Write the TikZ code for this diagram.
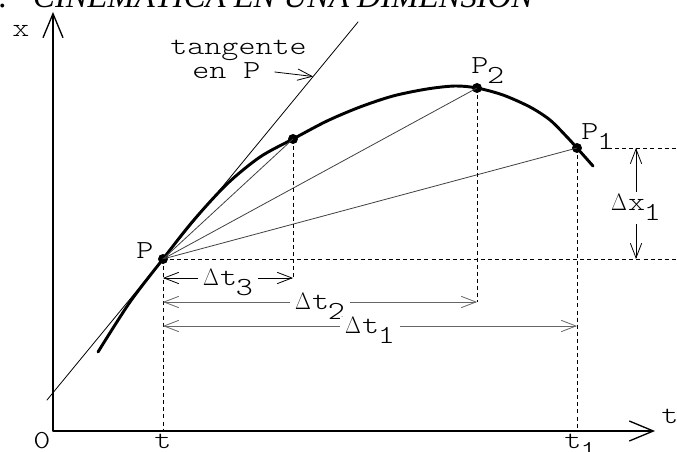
\documentclass[tikz,border=0pt]{standalone}
\usepackage{fontspec}
\usetikzlibrary{arrows.meta,calc}
\newfontfamily\titfont{Liberation Serif}
\newfontfamily\lblfont{lmmonolt10-regular.otf}[FakeStretch=1.25]
\newcommand\sub[1]{\kern-1pt\raisebox{-7.5pt}{#1}}
\newcommand\inc{\scalebox{0.74}[0.86]{$\Delta$}\kern1pt}
\begin{document}
\begin{tikzpicture}[x=0.75pt,y=-0.75pt,>={Straight Barb[length=11pt,width=8.5pt]},line join=round,line cap=round,
	lbl/.style={font=\fontsize{19.5}{21}\lblfont,inner sep=0pt},
	dimlbl/.style={lbl,fill=white,inner xsep=4pt,inner ysep=0pt,anchor=base,yshift=-5.5pt,text=black},
	dot/.style={circle,fill,inner sep=0pt,minimum size=7.5pt},
	dashln/.style={line width=0.6pt,line cap=butt,dash pattern=on 3pt off 2.3pt},
	thinln/.style={line width=0.6pt},
	dim/.style={<->,line width=0.6pt}]
	\useasboundingbox (0,0) rectangle (677,452);
	\clip (0,0) rectangle (677,452);
	\node[font=\fontsize{24.5}{26}\titfont\itshape,anchor=base west,inner sep=0pt] (title) at (33,8) {\llap{2.\hspace{19.5pt}}CINEMÁTICA EN UNA DIMENSIÓN};
	% ejes
	\coordinate (O) at (53,431);
	\coordinate (xtip) at (655,431);
	\coordinate (ytip) at (53,12);
	\draw[line width=1pt,{Straight Barb[length=18pt,width=15pt]}-{Straight Barb[length=18pt,width=15pt]}] (ytip) -- (O) -- (xtip);
	\node[lbl,anchor=base west] (xlab) at (12,37) {x};
	\node[lbl,anchor=base west] (tlab) at (661,423) {t};
	\node[lbl,anchor=base] (zero) at (42,448) {0};
	\coordinate (t0) at (163,431);
	\coordinate (t1) at (577,431);
	\node[lbl,anchor=base] (tt0) at (t0|-zero.base) {t};
	\node[lbl,anchor=base west] (tt1) at (564,448) {t\sub{1}};
	% puntos de la curva
	\node[dot] (P) at (163,259) {};
	\node[dot] (Q) at (293,139) {};
	\node[dot] (P2) at (477,88) {};
	\node[dot] (P1) at (577,148) {};
	\node[lbl,anchor=base west] (Plab) at (136,258) {P};
	\node[lbl,anchor=base west] (P2lab) at (471,74) {P\sub{2}};
	\node[lbl,anchor=base west] (P1lab) at (581,140) {P\sub{1}};
	\draw[line width=2.2pt] plot[smooth,tension=0.5] coordinates {(98,352) (130,302) (P.center) (193,221) (227,184) (260,157) (Q.center) (327,121) (360,107) (393,96) (427,89) (455,86) (P2.center) (503,95) (530,107) (550,120) (567,137) (P1.center) (593,166)};
	% tangente
	\coordinate (tanA) at (47,400);
	\coordinate (tanB) at (358,22);
	\draw[thinln] (tanA) -- (tanB);
	\coordinate (tp) at ($(P.center)!0.77!(tanB)$);
	\node[lbl,anchor=base west] (tang) at (170,55) {tangente};
	\node[lbl,anchor=base west] (enP) at (192,79) {en P};
	\draw[thinln,->] ($(enP.base east)+(14,-7)$) -- (tp);
	% cuerdas
	\draw[thinln,black!75] (P.center) -- (Q.center);
	\draw[thinln,black!75] (P.center) -- (P2.center);
	\draw[thinln,black!75] (P.center) -- (P1.center);
	% lineas punteadas
	\coordinate (d3) at (293,278);
	\coordinate (d2) at (477,302);
	\coordinate (rP) at (677,259);
	\coordinate (lP1) at (601,148);
	\coordinate (rP1) at (677,148);
	\draw[dashln] (P.center) -- (t0);
	\draw[dashln] (Q.center) -- (d3);
	\draw[dashln] (P2.center) -- (d2);
	\draw[dashln] (P1.center) -- (t1);
	\draw[dashln] (P.center) -- (rP);
	\draw[dashln] (lP1) -- (rP1);
	% incrementos
	\coordinate (a3) at (163,278);
	\coordinate (a2) at (163,302);
	\coordinate (a1) at (163,326);
	\coordinate (b1) at (577,326);
	\coordinate (x1a) at (636,148);
	\coordinate (x1b) at (636,259);
	\draw[dim] (a3) -- (d3) node[dimlbl,midway] (dt3) {\inc t\sub{3}};
	\draw[dim,black!60] (a2) -- (d2) node[dimlbl,midway] (dt2) {\inc t\sub{2}};
	\draw[dim,black!60] (a1) -- (b1) node[dimlbl,midway] (dt1) {\inc t\sub{1}};
	\draw[dim] (x1a) -- (x1b) node[dimlbl,midway,inner ysep=2pt] (dx1) {\inc x\sub{1}};
\end{tikzpicture}
\end{document}
